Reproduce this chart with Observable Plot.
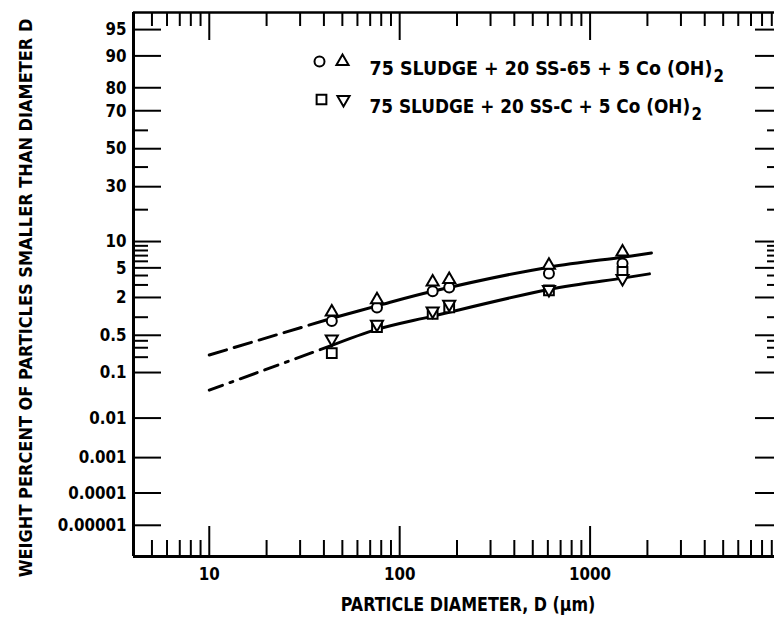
<!DOCTYPE html>
<html><head><meta charset="utf-8">
<script src="https://cdn.jsdelivr.net/npm/d3@7"></script>
<script src="https://cdn.jsdelivr.net/npm/@observablehq/plot@0.6"></script>
<style>
html,body{margin:0;padding:0;background:#fff;overflow:hidden}
</style></head><body><div id="chart"></div>
<script>
// ---- data (weight percent smaller than D, particle diameter in µm) ----
const diameters = [44, 76, 149, 182, 608, 1480];
const circleSS65 = [0.87, 1.42, 2.45, 2.76, 4.24, 5.64];
const triangleSS65 = [1.21, 1.86, 3.29, 3.54, 5.37, 7.69];
const squareSSC = [0.238, 0.69, 1.13, 1.42, 2.53, 4.44];
const invTriangleSSC = [0.43, 0.77, 1.25, 1.59, 2.6, 3.65];

const fitD_SS65 = [44, 76, 149, 608, 1480, 2100];
const fitSS65 = [0.96, 1.5, 2.45, 5.1, 6.7, 7.5];
const fitD_SSC = [44, 76, 149, 608, 1480, 2050];
const fitSSC = [0.33, 0.63, 1.04, 2.6, 3.7, 4.2];
const extrapD = [10, 44];
const extrapSS65 = [0.22, 0.96];
const extrapSSC = [0.043, 0.33];

const legendLabels = ["75 SLUDGE + 20 SS-65 + 5 Co (OH)", "75 SLUDGE + 20 SS-C + 5 Co (OH)"];
const legendSubscripts = ["2", "2"];
const xTitle = "PARTICLE DIAMETER, D (\u03BCm)";
const yTitle = "WEIGHT PERCENT OF PARTICLES SMALLER THAN DIAMETER D";

const yMajor = [95, 90, 80, 70, 50, 30, 10, 5, 2, 0.5, 0.1, 0.01, 0.001, 0.0001, 0.00001];
const yMajorLabels = ["95","90","80","70","50","30","10","5","2","0.5","0.1","0.01","0.001","0.0001","0.00001"];
const yMinor = [60, 40, 20, 9, 8, 7, 6, 4, 3, 1, 0.4, 0.3, 0.2];
const xMajor = [10, 100, 1000];
const xMajorLabels = ["10", "100", "1000"];
const xMinor = [5, 6, 7, 8, 9, 20, 30, 40, 50, 60, 70, 80, 90, 200, 300, 400, 500, 600, 700, 800, 900, 2000, 3000, 4000, 5000, 6000, 7000, 8000, 9000];
const xDomain = [4, 9300];
const yDomainPct = [9e-7, 97];

// ---- probability (normal quantile) transform for the y axis ----
function invNorm(p) {
  const a = [-3.969683028665376e+01, 2.209460984245205e+02, -2.759285104469687e+02, 1.383577518672690e+02, -3.066479806614716e+01, 2.506628277459239e+00];
  const b = [-5.447609879822406e+01, 1.615858368580409e+02, -1.556989798598866e+02, 6.680131188771972e+01, -1.328068155288572e+01];
  const c = [-7.784894002430293e-03, -3.223964580411365e-01, -2.400758277161838e+00, -2.549671834058910e+00, 4.374664141464968e+00, 2.938163982698783e+00];
  const d = [7.784695709041462e-03, 3.224671290700398e-01, 2.445134137142996e+00, 3.754408661907416e+00];
  const pl = 0.02425, ph = 1 - pl;
  let q, r;
  if (p < pl) { q = Math.sqrt(-2 * Math.log(p)); return (((((c[0]*q+c[1])*q+c[2])*q+c[3])*q+c[4])*q+c[5]) / ((((d[0]*q+d[1])*q+d[2])*q+d[3])*q+1); }
  if (p <= ph) { q = p - 0.5; r = q*q; return (((((a[0]*r+a[1])*r+a[2])*r+a[3])*r+a[4])*r+a[5])*q / (((((b[0]*r+b[1])*r+b[2])*r+b[3])*r+b[4])*r+1); }
  q = Math.sqrt(-2 * Math.log(1 - p)); return -(((((c[0]*q+c[1])*q+c[2])*q+c[3])*q+c[4])*q+c[5]) / ((((d[0]*q+d[1])*q+d[2])*q+d[3])*q+1);
}
const probit = pct => invNorm(pct / 100);

const triangleDown = {
  draw(context, size) {
    const s3 = Math.sqrt(3);
    const y = -Math.sqrt(size / (s3 * 3));
    context.moveTo(0, -y * 2);
    context.lineTo(-s3 * y, y);
    context.lineTo(s3 * y, y);
    context.closePath();
  }
};

const pts = (xs, ys) => xs.map((x, i) => ({x, pct: ys[i]}));
const yMajorZ = yMajor.map(probit);
const yMinorZ = yMinor.map(probit);
const yLabelMap = new Map(yMajorZ.map((z, i) => [z, yMajorLabels[i]]));
const xLabelMap = new Map(xMajor.map((v, i) => [v, xMajorLabels[i]]));
const yDomainZ = yDomainPct.map(probit);

const FONT = "'DejaVu Sans', sans-serif";
const yv = d => probit(d.pct);
const sym = {stroke: "#000", strokeWidth: 2, fill: "#fff"};

const plot = Plot.plot({
  width: 774,
  height: 624,
  marginLeft: 133,
  marginRight: 0,
  marginTop: 12,
  marginBottom: 68,
  style: {fontFamily: FONT, fontWeight: "bold", background: "#fff", color: "#000"},
  x: {type: "log", domain: xDomain, label: null},
  y: {type: "linear", domain: yDomainZ, label: null},
  marks: [
    // ticks (inward)
    Plot.axisY(yMajorZ, {anchor: "left", tickSize: -28, tickFormat: () => "", strokeWidth: 2, label: null}),
    Plot.axisY(yMinorZ, {anchor: "left", tickSize: -15, tickFormat: () => "", strokeWidth: 2, label: null}),
    Plot.axisY(yMajorZ, {anchor: "right", tickSize: -20, tickFormat: () => "", strokeWidth: 2, label: null}),
    Plot.axisY(yMinorZ, {anchor: "right", tickSize: -8, tickFormat: () => "", strokeWidth: 2, label: null}),
    Plot.axisX(xMajor, {anchor: "bottom", tickSize: -30, tickFormat: () => "", strokeWidth: 2, label: null}),
    Plot.axisX(xMinor, {anchor: "bottom", tickSize: -16, tickFormat: () => "", strokeWidth: 2, label: null}),
    Plot.axisX(xMajor, {anchor: "top", tickSize: -27, tickFormat: () => "", strokeWidth: 2, label: null}),
    Plot.axisX(xMinor, {anchor: "top", tickSize: -13, tickFormat: () => "", strokeWidth: 2, label: null}),
    // labels
    Plot.axisY(yMajorZ, {anchor: "left", tickSize: 0, tickPadding: 7, tickFormat: z => yLabelMap.get(z), fontSize: 18, label: null}),
    Plot.axisX(xMajor, {anchor: "bottom", tickSize: 0, tickPadding: 11, tickFormat: v => xLabelMap.get(v), fontSize: 18, label: null}),
    // frame: left, bottom, top
    Plot.ruleX([xDomain[0]], {stroke: "#000", strokeWidth: 3}),
    Plot.ruleY([yDomainZ[0]], {stroke: "#000", strokeWidth: 3}),
    Plot.ruleY([yDomainZ[1]], {stroke: "#000", strokeWidth: 2.5}),
    // fitted curves
    Plot.line(pts(extrapD, extrapSS65), {x: "x", y: yv, stroke: "#000", strokeWidth: 3, strokeDasharray: "18,8"}),
    Plot.line(pts(extrapD, extrapSSC), {x: "x", y: yv, stroke: "#000", strokeWidth: 3, strokeDasharray: "14,8,3,8,18,8"}),
    Plot.line(pts(fitD_SS65, fitSS65), {x: "x", y: yv, curve: "catmull-rom", stroke: "#000", strokeWidth: 3}),
    Plot.line(pts(fitD_SSC, fitSSC), {x: "x", y: yv, curve: "catmull-rom", stroke: "#000", strokeWidth: 3}),
    // data points
    Plot.dot(pts(diameters, circleSS65), {x: "x", y: yv, symbol: "circle", r: 5, ...sym}),
    Plot.dot(pts(diameters, triangleSS65), {x: "x", y: yv, symbol: "triangle", r: 4.5, ...sym}),
    Plot.dot(pts(diameters, squareSSC), {x: "x", y: yv, symbol: "square", r: 5.5, ...sym}),
    Plot.dot(pts(diameters, invTriangleSSC), {x: "x", y: yv, symbol: triangleDown, r: 4.5, ...sym}),
    // legend
    Plot.dot([0], {frameAnchor: "top-left", dx: 186, dy: 49, symbol: "circle", r: 5, ...sym}),
    Plot.dot([0], {frameAnchor: "top-left", dx: 209, dy: 49, symbol: "triangle", r: 4.5, ...sym}),
    Plot.dot([0], {frameAnchor: "top-left", dx: 188, dy: 87, symbol: "square", r: 5.5, ...sym}),
    Plot.dot([0], {frameAnchor: "top-left", dx: 210, dy: 87, symbol: triangleDown, r: 4.5, ...sym}),
    Plot.text([legendLabels[0]], {frameAnchor: "top-left", dx: 236, dy: 49, text: d => d, textAnchor: "start", fontSize: 19, fill: "#000"}),
    Plot.text([legendLabels[1]], {frameAnchor: "top-left", dx: 236, dy: 87, text: d => d, textAnchor: "start", fontSize: 19, fill: "#000"}),
    Plot.text([legendSubscripts[0]], {frameAnchor: "top-left", dx: 580, dy: 57, text: d => d, textAnchor: "start", fontSize: 18, fill: "#000"}),
    Plot.text([legendSubscripts[1]], {frameAnchor: "top-left", dx: 558, dy: 95, text: d => d, textAnchor: "start", fontSize: 18, fill: "#000"}),
    // axis titles
    Plot.text([xTitle], {frameAnchor: "bottom", dx: 14, dy: 54, text: d => d, textAnchor: "middle", fontSize: 19, fill: "#000"}),
    Plot.text([yTitle], {frameAnchor: "left", dx: -107.5, dy: 13.5, rotate: -90, text: d => d, textAnchor: "middle", fontSize: 18, fill: "#000"})
  ]
});
document.getElementById("chart").appendChild(plot);

// condense the lettering like the reference (narrow stencil font):
// scale each text along its own baseline about its anchor point
const fit = {};
fit[xTitle] = 255;
fit[yTitle] = 559;
fit[legendLabels[0]] = 343;
fit[legendLabels[1]] = 321;
d3.select(plot).selectAll("text").each(function() {
  const t = this.textContent;
  if (!t) return;
  const bb = this.getBBox();
  if (!(bb.width > 0)) return;
  const s = fit[t] ? fit[t] / bb.width : 0.84;
  const anchor = getComputedStyle(this).textAnchor;
  const ax = anchor === "middle" ? bb.x + bb.width / 2 : anchor === "end" ? bb.x + bb.width : bb.x;
  const prev = this.getAttribute("transform") || "";
  this.setAttribute("transform", `${prev} translate(${ax},0) scale(${s},1) translate(${-ax},0)`);
});
</script></body></html>
